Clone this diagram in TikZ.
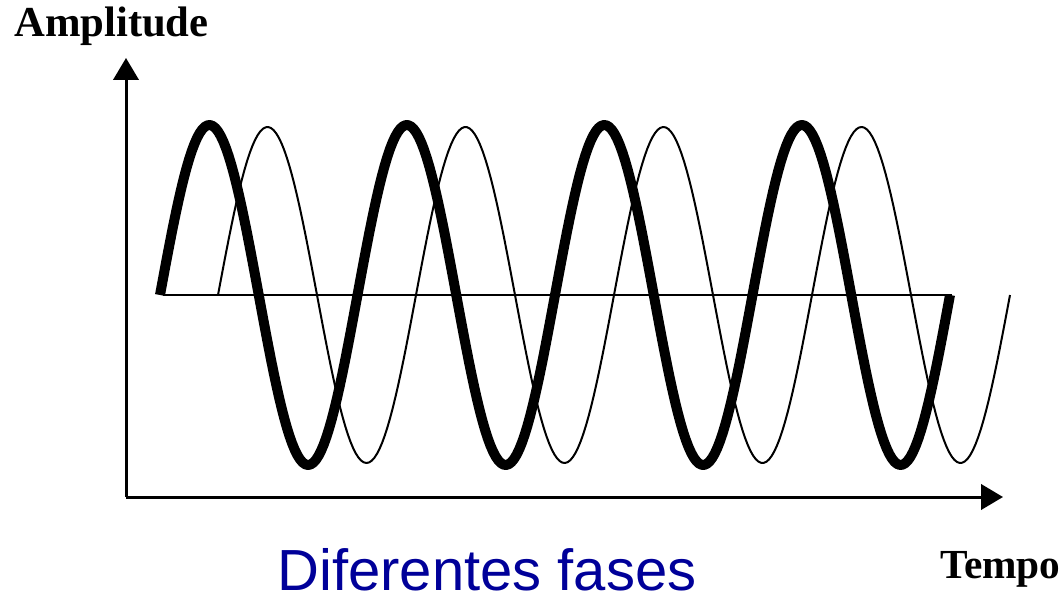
\documentclass[tikz,border=0pt]{standalone}
\usepackage{fontspec}
\setmainfont{Liberation Serif}
\newfontfamily\arialfont{Liberation Sans}
\usetikzlibrary{arrows.meta}
\definecolor{fasesblue}{RGB}{0,0,153}
\begin{document}
\begin{tikzpicture}[x=0.75pt,y=-0.75pt,
  axisline/.style={line width=2.25pt,-{Triangle[length=16.5pt,width=19pt]}},
  thickwave/.style={line width=7.5pt,line join=round},
  thinwave/.style={line width=1.5pt,line join=round},
  baseline/.style={line width=1.1pt},
  label/.style={font=\fontsize{31}{33}\selectfont\bfseries,inner sep=0pt},
  caption/.style={font=\arialfont\fontsize{43.5}{46}\selectfont,text=fasesblue,inner sep=0pt}]
\useasboundingbox (0,0) rectangle (1064,595);
\coordinate (O) at (126,497);
\coordinate (ytip) at (126,58);
\coordinate (xtip) at (1003,497);
\coordinate (b0) at (163,295);
\coordinate (b1) at (952,295);
\draw[axisline] (O) -- (ytip);
\draw[axisline] (O) -- (xtip);
\draw[baseline] (b0) -- (b1);
\draw[thinwave] plot[domain=218:1010,samples=300] (\x,{295-168*sin((\x-218)/198*360)});
\draw[thickwave] plot[domain=160:950,samples=300] (\x,{295-170*sin((\x-160)/197.5*360)});
\node[label,anchor=base west,font=\fontsize{32}{34}\selectfont\bfseries] (amp) at (14,37) {Amplitude};
\node[label,anchor=base west] (tempo) at (940,578) {Tempo};
\node[caption,anchor=base] (fases) at (487,590) {Diferentes fases};
\end{tikzpicture}
\end{document}
